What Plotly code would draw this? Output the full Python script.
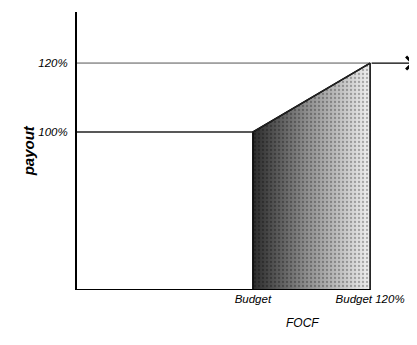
import plotly.graph_objects as go

# --- data -------------------------------------------------------------
x_tick_vals = [100, 120]                 # FOCF as % of budget
x_tick_text = ["Budget", "Budget 120%"]
y_tick_vals = [100, 120]                 # payout %
y_tick_text = ["100%", "120%"]

focf_start = 70          # left end of FOCF axis
focf_arrow = 127.6       # arrow tip
focf_axis_end = 128.0
payout_floor = 54.2      # bottom of payout axis
payout_top = 134.8

# payout curve: flat at 100% until budget, linear to 120% at budget 120%, then flat
curve_x = [focf_start, 100, 120]
curve_y = [100, 100, 120]

FONT = "Liberation Sans, Arial, sans-serif"

fig = go.Figure()

# shaded (gradient) region between budget and budget 120%
shade_x = [100, 100, 120, 120, 100]
shade_y = [payout_floor, 100, 120, payout_floor, payout_floor]
fig.add_trace(go.Scatter(
    x=shade_x, y=shade_y, mode="lines", fill="toself",
    line=dict(color="black", width=1.5),
    fillgradient=dict(type="horizontal",
                      colorscale=[[0, "#2c2c2c"], [0.45, "#8c8c8c"], [1, "#efefef"]]),
    hoverinfo="skip", showlegend=False))
# stipple texture overlay
fig.add_trace(go.Scatter(
    x=shade_x, y=shade_y, mode="none", fill="toself",
    fillcolor="rgba(0,0,0,0)",
    fillpattern=dict(shape=".", fgcolor="rgba(0,0,0,0.55)", bgcolor="rgba(0,0,0,0)",
                     size=4, solidity=0.25),
    hoverinfo="skip", showlegend=False))

# 120% reference line from the payout axis
fig.add_trace(go.Scatter(
    x=[focf_start, x_tick_vals[1]], y=[y_tick_vals[1]] * 2, mode="lines",
    line=dict(color="#555555", width=1), hoverinfo="skip", showlegend=False))

# payout curve
fig.add_trace(go.Scatter(
    x=curve_x, y=curve_y, mode="lines",
    line=dict(color="#222222", width=1.5), hoverinfo="skip", showlegend=False))

# FOCF baseline
fig.add_trace(go.Scatter(
    x=[focf_start, x_tick_vals[1]], y=[payout_floor] * 2, mode="lines",
    line=dict(color="black", width=2), hoverinfo="skip", showlegend=False))

# arrow continuing at 120%
fig.add_annotation(x=focf_arrow, y=y_tick_vals[1], ax=x_tick_vals[1], ay=y_tick_vals[1],
                   xref="x", yref="y", axref="x", ayref="y", text="",
                   showarrow=True, arrowhead=4, arrowsize=2.1, arrowwidth=1.2,
                   arrowcolor="black")

# axis titles
fig.add_annotation(text="FOCF", xref="paper", yref="paper", x=0.662, y=-0.151,
                   showarrow=False, font=dict(family=FONT, size=12, color="black", style="italic"))
fig.add_annotation(text="<b>payout</b>", xref="paper", yref="paper", x=-0.174, y=0.5,
                   textangle=-90, showarrow=False,
                   font=dict(family=FONT, size=15, color="black", style="italic"))

fig.update_xaxes(range=[focf_start, focf_axis_end], tickvals=x_tick_vals, ticktext=x_tick_text,
                 showgrid=False, zeroline=False, showline=False, ticks="", automargin=False,
                 tickfont=dict(family=FONT, size=11.5, color="black", style="italic"))
fig.update_yaxes(range=[payout_floor, payout_top], tickvals=y_tick_vals, ticktext=y_tick_text,
                 showgrid=False, zeroline=False, showline=True, linecolor="black", linewidth=2,
                 ticks="", ticklabelstandoff=5, automargin=False,
                 tickfont=dict(family=FONT, size=11.5, color="black", style="italic"))

fig.update_layout(width=417, height=345, margin=dict(l=69, r=8, t=4, b=63, autoexpand=False),
                  plot_bgcolor="white", paper_bgcolor="white", showlegend=False)

fig.write_html("out.html")
